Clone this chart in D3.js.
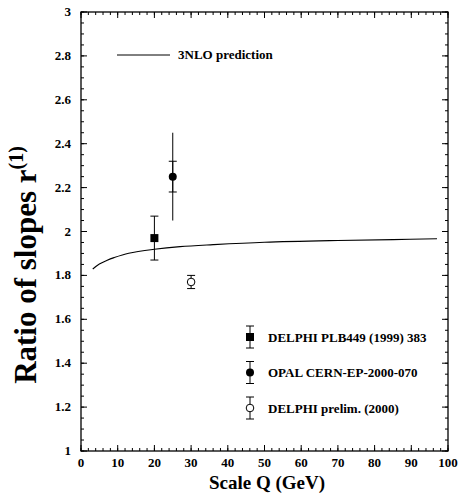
<!DOCTYPE html>
<html>
<head>
<meta charset="utf-8">
<script src="https://cdn.jsdelivr.net/npm/d3@7"></script>
<style>
  body { margin: 0; background: #fff; }
  svg text { font-family: "Liberation Serif", "DejaVu Serif", serif; font-weight: bold; fill: #000; }
</style>
</head>
<body>
<svg id="svg" width="459" height="495"></svg>
<script>
// 3NLO prediction curve
const curveQ = [3.2, 5, 7, 9, 13, 20, 27, 36, 50, 70, 85, 97]
const curveR = [1.829, 1.852, 1.868, 1.881, 1.901, 1.919, 1.931, 1.940, 1.951, 1.959, 1.963, 1.967]

// measurements
const expNames = ['DELPHI PLB449 (1999) 383', 'OPAL CERN-EP-2000-070', 'DELPHI prelim. (2000)']
const expQ = [20, 25, 30]
const expR = [1.97, 2.25, 1.77]
const expStat = [0.10, 0.07, 0.03]
const expTot = [0.10, 0.20, 0.03]
const expMarker = ['square', 'circle', 'open']

const xTicks = [0, 10, 20, 30, 40, 50, 60, 70, 80, 90, 100]
const yTicks = [1, 1.2, 1.4, 1.6, 1.8, 2, 2.2, 2.4, 2.6, 2.8, 3]

const margin = {left: 81, top: 12, right: 11, bottom: 44}
const W = 459, H = 495
const w = W - margin.left - margin.right
const h = H - margin.top - margin.bottom

const svg = d3.select('#svg')
const g = svg.append('g').attr('transform', `translate(${margin.left},${margin.top})`)

const x = d3.scaleLinear().domain([0, 100]).range([0, w])
const y = d3.scaleLinear().domain([1, 3]).range([h, 0])

// frame
g.append('rect').attr('width', w).attr('height', h)
  .attr('fill', 'none').attr('stroke', '#000').attr('stroke-width', 1.3)

const xMinor = d3.range(0, 100.01, 2)
const yMinor = d3.range(1, 3.001, 0.05)
const major = 6, minor = 3

function tickLines(vals, len, horizontal) {
  vals.forEach(v => {
    if (horizontal) {
      const px = x(v)
      g.append('line').attr('x1', px).attr('x2', px).attr('y1', h).attr('y2', h - len)
        .attr('stroke', '#000')
      g.append('line').attr('x1', px).attr('x2', px).attr('y1', 0).attr('y2', len)
        .attr('stroke', '#000')
    } else {
      const py = y(v)
      g.append('line').attr('x1', 0).attr('x2', len).attr('y1', py).attr('y2', py)
        .attr('stroke', '#000')
      g.append('line').attr('x1', w).attr('x2', w - len).attr('y1', py).attr('y2', py)
        .attr('stroke', '#000')
    }
  })
}
tickLines(xMinor, minor, true)
tickLines(xTicks, major, true)
tickLines(yMinor, minor, false)
tickLines(yTicks, major, false)

// tick labels
g.selectAll('.xl').data(xTicks).enter().append('text')
  .attr('x', d => x(d)).attr('y', h + 16)
  .attr('text-anchor', 'middle').attr('font-size', 13)
  .text(d => d)
g.selectAll('.yl').data(yTicks).enter().append('text')
  .attr('x', -10).attr('y', d => y(d) + 4)
  .attr('text-anchor', 'end').attr('font-size', 13)
  .text(d => d)

// axis titles
svg.append('text').attr('x', 267).attr('y', 489)
  .attr('text-anchor', 'middle').attr('font-size', 19)
  .text('Scale Q (GeV)')
const yt = svg.append('text')
  .attr('transform', 'translate(36,265) rotate(-90)')
  .attr('text-anchor', 'middle').attr('font-size', 31)
yt.append('tspan').text('Ratio of slopes r')
yt.append('tspan').attr('dy', -13).attr('font-size', 20).text('(1)')

// prediction curve
const line = d3.line().x(d => x(d[0])).y(d => y(d[1])).curve(d3.curveCatmullRom)
g.append('path').datum(curveQ.map((q, i) => [q, curveR[i]]))
  .attr('d', line).attr('fill', 'none').attr('stroke', '#000').attr('stroke-width', 1.1)

function marker(sel, type, cx, cy) {
  if (type === 'square') {
    sel.append('rect').attr('x', cx - 4).attr('y', cy - 4).attr('width', 8).attr('height', 8)
      .attr('fill', '#000')
  } else if (type === 'circle') {
    sel.append('circle').attr('cx', cx).attr('cy', cy).attr('r', 4).attr('fill', '#000')
  } else {
    sel.append('circle').attr('cx', cx).attr('cy', cy).attr('r', 3.8)
      .attr('fill', '#fff').attr('stroke', '#000').attr('stroke-width', 1)
  }
}

function errBar(sel, cx, y1, y2, cap) {
  sel.append('line').attr('x1', cx).attr('x2', cx).attr('y1', y1).attr('y2', y2).attr('stroke', '#000')
  if (cap) {
    [y1, y2].forEach(yy => sel.append('line').attr('x1', cx - 4).attr('x2', cx + 4)
      .attr('y1', yy).attr('y2', yy).attr('stroke', '#000'))
  }
}

// data points
expQ.forEach((q, i) => {
  const cx = x(q)
  if (expTot[i] > expStat[i]) {
    errBar(g, cx, y(expR[i] + expTot[i]), y(expR[i] - expTot[i]), false)
  }
  errBar(g, cx, y(expR[i] + expStat[i]), y(expR[i] - expStat[i]), true)
  marker(g, expMarker[i], cx, y(expR[i]))
})

// legend: prediction
svg.append('line').attr('x1', 117).attr('x2', 170).attr('y1', 55).attr('y2', 55).attr('stroke', '#000')
svg.append('text').attr('x', 178).attr('y', 59).attr('font-size', 13).text('3NLO prediction')

// legend: measurements
expNames.forEach((name, i) => {
  const ly = 337 + i * 35.5
  errBar(svg, 250, ly - 11, ly + 11, true)
  marker(svg, expMarker[i], 250, ly)
  svg.append('text').attr('x', 268).attr('y', ly + 4.5).attr('font-size', 13).text(name)
})
</script>
</body>
</html>
